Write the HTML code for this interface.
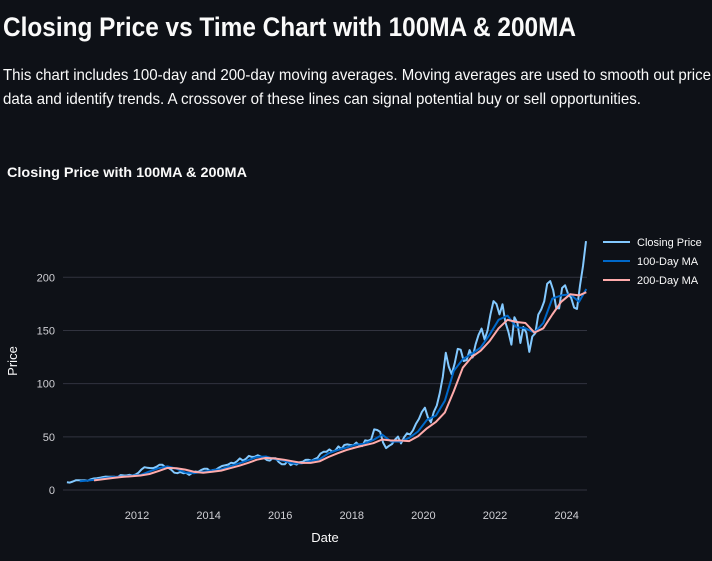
<!DOCTYPE html>
<html><head><meta charset="utf-8"><style>
html,body{margin:0;padding:0;background:#0e1117;}
svg{display:block;font-family:"Liberation Sans",sans-serif;}
</style></head><body>
<svg id="chart" width="712" height="561" viewBox="0 0 712 561">
<rect width="712" height="561" fill="#0e1117"/>
<text x="3" y="36" font-size="27" font-weight="bold" fill="#fafafa" textLength="573" lengthAdjust="spacingAndGlyphs">Closing Price vs Time Chart with 100MA &amp; 200MA</text>
<text x="3" y="80" font-size="16" fill="#fafafa" textLength="708" lengthAdjust="spacingAndGlyphs">This chart includes 100-day and 200-day moving averages. Moving averages are used to smooth out price</text>
<text x="3" y="104" font-size="16" fill="#fafafa" textLength="638" lengthAdjust="spacingAndGlyphs">data and identify trends. A crossover of these lines can signal potential buy or sell opportunities.</text>
<text x="7" y="177" font-size="14" font-weight="bold" fill="#fafafa" textLength="240" lengthAdjust="spacingAndGlyphs">Closing Price with 100MA &amp; 200MA</text>
<g id="grid"></g>
<g id="series"></g>
<g id="axes"></g>
<g id="legend"></g>
</svg>
<script>
const closeStart = 2010.0;
const closeValues = [
7.2,7.0,8.0,9.1,9.2,9.0,9.1,8.7,10.1,10.8,11.1,11.5,
12.1,12.6,12.4,12.5,12.4,11.9,14.0,13.7,13.6,14.3,13.6,14.5,
16.3,19.4,21.4,20.9,20.6,20.6,21.8,23.7,23.8,21.3,20.9,19.0,
16.3,15.8,16.9,15.8,16.1,14.2,16.2,17.4,17.0,18.7,19.9,20.0,
17.9,18.8,19.2,21.1,22.6,23.2,23.9,25.6,25.2,27.0,29.7,27.6,
29.3,32.1,31.1,31.3,32.6,31.4,30.3,28.2,27.6,29.9,29.8,26.3,
24.3,24.2,27.2,23.4,24.9,23.9,26.1,26.5,28.3,28.4,27.6,29.0,
30.3,34.2,35.9,35.9,38.2,36.0,37.2,41.0,38.5,42.3,42.9,42.3,
41.9,44.6,41.9,41.3,46.7,46.3,47.6,57.0,56.4,54.7,44.6,39.4,
41.6,43.3,47.5,50.2,43.8,49.5,53.3,52.2,56.1,62.2,66.8,73.4,
77.4,68.3,63.6,73.4,79.5,91.2,106.3,129.0,115.8,108.9,119.1,132.7,
131.9,121.3,122.2,131.5,124.6,137.0,145.9,151.8,141.5,149.8,165.3,177.6,
174.8,165.1,174.6,157.7,148.8,136.7,162.5,157.2,138.2,153.3,148.0,129.9,
144.3,147.4,164.9,169.7,177.3,194.0,196.4,187.9,171.2,170.8,189.9,192.5,
184.4,180.8,171.5,170.3,192.3,210.6,234.0
];
const ma100Dates = [2010.4,2010.6,2010.85,2011.1,2011.35,2011.6,2011.85,2012.1,2012.35,2012.6,2012.85,2013.1,2013.35,2013.6,2013.85,2014.1,2014.35,2014.6,2014.85,2015.1,2015.35,2015.6,2015.85,2016.1,2016.35,2016.6,2016.85,2017.1,2017.35,2017.6,2017.85,2018.1,2018.35,2018.6,2018.85,2019.1,2019.35,2019.6,2019.85,2020.1,2020.35,2020.6,2020.85,2021.1,2021.35,2021.6,2021.85,2022.1,2022.35,2022.6,2022.85,2023.1,2023.35,2023.6,2023.85,2024.1,2024.35,2024.55];
const ma100Values = [8.3,8.8,9.8,11.2,12.3,12.6,13.5,14.2,17.5,20.5,22.2,20.0,16.5,15.8,17.2,18.6,19.5,22.5,25.0,28.0,31.0,31.5,29.0,27.5,25.0,25.0,27.5,29.0,34.5,37.5,40.0,42.5,43.5,47.0,52.0,45.5,45.5,49.0,55.0,66.0,70.0,84,112,123,128,134,146,160,164,153,152,148,157,180,183,184,177,189];
const ma200Dates = [2010.8,2011.1,2011.35,2011.6,2011.85,2012.1,2012.35,2012.6,2012.85,2013.1,2013.35,2013.6,2013.85,2014.1,2014.35,2014.6,2014.85,2015.1,2015.35,2015.6,2015.85,2016.1,2016.35,2016.6,2016.85,2017.1,2017.35,2017.6,2017.85,2018.1,2018.35,2018.6,2018.85,2019.1,2019.35,2019.6,2019.85,2020.1,2020.35,2020.6,2020.85,2021.1,2021.35,2021.6,2021.85,2022.1,2022.35,2022.6,2022.85,2023.1,2023.35,2023.6,2023.85,2024.1,2024.35,2024.55];
const ma200Values = [9.0,10.3,11.4,12.3,13.0,13.6,15.0,17.8,20.8,20.5,19.2,17.0,16.2,17.1,18.2,20.5,22.8,25.5,28.5,30.2,29.6,28.5,27.0,25.5,25.5,27.0,31.0,34.5,37.5,40.0,42.0,44.0,47.5,46.5,46.5,46.0,50.5,58,64,73,93,115,125,131,140,152,160,158,157,148,152,165,177,184,183,186];
const yTicks = [0,50,100,150,200];
const xTicks = [2012,2014,2016,2018,2020,2022,2024];

const NS="http://www.w3.org/2000/svg";
const X0=65.4, PXY=35.8, Y0=490, PXV=1.0635;
const xs=t=>X0+(t-2010)*PXY;
const ys=v=>Y0-v*PXV;
function mk(tag,attrs,parent){const e=document.createElementNS(NS,tag);for(const k in attrs)e.setAttribute(k,attrs[k]);parent.appendChild(e);return e;}
const grid=document.getElementById('grid'),axes=document.getElementById('axes'),series=document.getElementById('series'),legend=document.getElementById('legend');
yTicks.forEach(v=>{
  const l=mk('line',{x1:63,x2:587,y1:ys(v),y2:ys(v),stroke:'#31333f','stroke-width':1},grid);
  
  
  const t=mk('text',{x:55,y:ys(v)+4,'font-size':11,fill:'#d0d0d5','text-anchor':'end'},axes);
  t.textContent=v;
  
  
});
xTicks.forEach(y=>{
  const t=mk('text',{x:xs(y),y:519,'font-size':11,fill:'#d0d0d5','text-anchor':'middle'},axes);
  t.textContent=y;
  
  
});
const xt=mk('text',{x:325,y:542,'font-size':13,fill:'#fafafa','text-anchor':'middle'},axes);
xt.textContent='Date';


const yt=mk('text',{x:17,y:361,'font-size':13,fill:'#fafafa','text-anchor':'middle',transform:'rotate(-90 17 361)'},axes);
yt.textContent='Price';



function path(dates,vals,color,name){
  const d=vals.map((v,i)=>(i?'L':'M')+xs(dates[i]).toFixed(1)+','+ys(v).toFixed(1)).join('');
  const p=mk('path',{d:d,fill:'none',stroke:color,'stroke-width':2,'stroke-linejoin':'round'},series);
  
  
}
const closeDates=closeValues.map((v,i)=>closeStart+(i+0.5)/12);
path(closeDates,closeValues,'#83c9ff','closing-price-line');
path(ma100Dates,ma100Values,'#0068c9','ma100-line');
path(ma200Dates,ma200Values,'#ffabab','ma200-line');

[['Closing Price','#83c9ff','legend-closing-price'],['100-Day MA','#0068c9','legend-ma100'],['200-Day MA','#ffabab','legend-ma200']].forEach((e,i)=>{
  const y=242+i*19;
  const g=mk('g',{},legend);
  
  
  mk('line',{x1:603,x2:630,y1:y,y2:y,stroke:e[1],'stroke-width':2},g);
  const t=mk('text',{x:637,y:y+4,'font-size':11,fill:'#fafafa'},g);
  t.textContent=e[0];
});
</script>
</body></html>
